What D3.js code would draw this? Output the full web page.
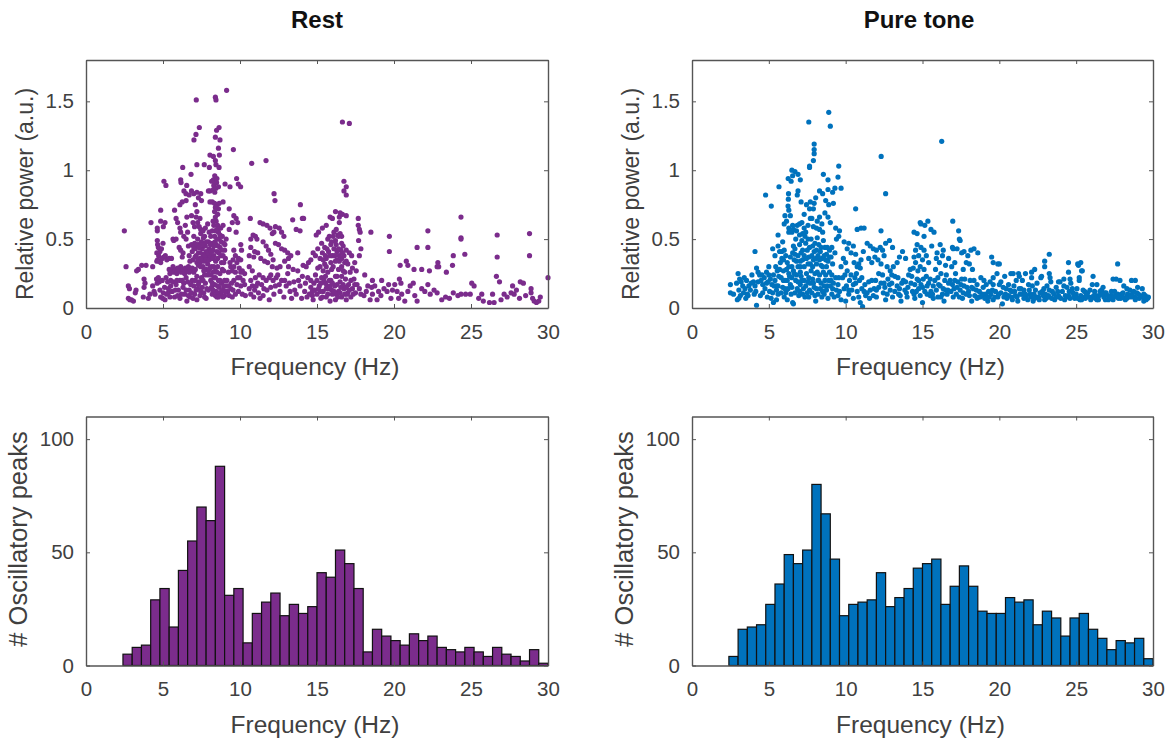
<!DOCTYPE html>
<html><head><meta charset="utf-8">
<script src="https://cdn.jsdelivr.net/npm/d3@7"></script>
<style>html,body{margin:0;background:#fff}svg{display:block}text{font-family:"Liberation Sans",Arial,sans-serif}</style>
</head><body><svg id="c" width="1171" height="740"></svg>
<script>
const xTicks=[0,5,10,15,20,25,30];
const powerTicks=[0,0.5,1,1.5];
const countTicks=[0,50,100];
const binStart=1.8, binWidth=0.6;
const restCounts=[0,5,8,9,29,34,17,42,55,70,64,88,31,34,10,23,28,32,22,27,23,26,41,39,51,45,34,6,16,13,11,9,14,11,13,8,7,6,8,6,4,8,5,4,2,7,1];
const pureCounts=[0,4,16,17,18,27,36,49,45,51,80,67,47,22,27,28,29,41,26,30,34,43,45,47,27,35,44,35,24,23,23,30,28,29,18,24,21,13,21,23,16,12,7,11,10,12,3];
const restPeaks=[
[2.49,.56],[2.6,.3],[2.75,.16],[2.82,.14],[2.75,.07],[2.95,.06],[2.85,.06],[3.08,.05],[3.25,.13],[3.2,.11],[3.29,.27],[3.4,.28],[3.62,.31],[3.9,.31],[4.33,.3],[3.77,.21],[3.83,.18],[3.77,.15],[3.72,.08],[4.05,.07],[4.15,.1],[4.33,.16],[4.42,.12],[4.48,.1],[4.58,.21],[4.62,.18],[4.7,.22],[4.8,.13],[4.85,.08],[4.98,.07],[5.13,.06],[5.24,.1],[5.35,.11],[5.02,.11],[4.76,.19],
[4.63,.56],[4.63,.58],[4.85,.63],[5.02,.59],[5.13,.62],[4.85,.71],[4.22,.62],[4.63,.49],[4.65,.46],[4.7,.44],[4.6,.4],[4.72,.38],[4.8,.41],[4.9,.43],[5,.47],[5.05,.37],[4.65,.35],[4.75,.34],[4.85,.33],[4.95,.36],[5.15,.38],[5.25,.35],[5.4,.36],[5.55,.36],[4.6,.34],[5.06,.92],[5.19,.89],
[5.4,.28],[5.45,.25],[5.55,.27],[5.65,.3],[5.7,.26],[5.8,.28],[5.9,.25],[5.95,.29],[6.05,.27],[6.15,.3],[6.2,.26],[6.3,.28],[6.4,.25],[6.45,.29],[6.55,.27],[6.65,.3],[6.7,.26],[6.8,.27],[6.9,.29],[7,.26],[7.1,.28],
[5.5,.16],[5.6,.12],[5.75,.08],[5.85,.17],[6,.13],[6.1,.07],[6.25,.2],[6.3,.15],[6.4,.1],[6.55,.05],[6.6,.19],[6.7,.13],[6.75,.08],[6.9,.2],[7,.16],[7.05,.1],[7.2,.06],[7.25,.14],[7.35,.19],[7.4,.09],[7.5,.22],[7.55,.15],[7.65,.11],[7.75,.18],[7.8,.07],[7.9,.24],[7.95,.13],
[5.65,.5],[5.7,.49],[5.85,.5],[5.75,.71],[5.85,.65],[5.95,.62],[6.1,.58],[6.15,.55],[6.05,.44],[6.15,.42],[6.25,.37],[6.3,.4],[6.35,.52],[6.45,.6],[6.5,.5],[6.55,.66],[6.6,.55],[6.28,1.02],[6.82,.97],[6.15,.93],[6.17,.91],[6.54,.89],[6.36,.85],[6.49,.83],[6.1,.75],[6.25,.77],[6.5,.78],[6.7,.82],[6.85,.85],[7,.83],[7.2,.84],[7.3,.8],[7.45,.83],[7.1,.75],[7.5,.78],
[6.65,.45],[6.7,.38],[6.75,.34],[6.85,.46],[6.9,.41],[6.95,.35],[7,.52],[7.05,.47],[7.1,.43],[7.15,.38],[7.2,.33],[7.25,.5],[7.3,.46],[7.3,.4],[7.4,.36],[7.4,.33],[7.45,.54],[7.5,.48],[7.55,.43],[7.6,.39],[7.65,.34],[7.7,.52],[7.75,.45],[7.8,.41],[7.85,.37],[7.9,.32],[7.95,.48],[8,.43],[8.05,.38],[6.95,.62],[7.05,.59],[7.15,.66],[7.25,.62],[7.35,.59],[7.45,.57],[7.6,.56],[7.75,.58],[7.9,.61],[8,.55],[7.2,.7],[6.85,.67],[7.4,.65],
[7.16,1.51],[8.4,1.53],[8.44,1.51],[9.13,1.58],[7.36,1.31],[7.14,1.26],[7.01,1.22],[8.64,1.31],[8.48,1.29],[8.4,1.24],[8.7,1.22],[8.6,1.16],[9.57,1.15],[8.66,1.11],[8.05,1.11],[8.27,1.1],[8.4,1.07],[8.44,1.04],[8.64,1.02],[7.2,1.04],[7.68,1.04],[8.01,1.02],[10.76,1.05],[11.69,1.07],
[8.36,.96],[8.27,.93],[8.5,.94],[8.16,.92],[8.3,.89],[8.48,.91],[8.05,.85],[8.27,.86],[8.44,.87],[8.36,.84],[8.6,.88],[7.95,.85],[8.05,.77],[8.2,.77],[8.35,.76],[8.5,.75],[8.65,.76],[8.9,.77],[8.35,.7],[8.4,.66],[8.45,.63],[8.3,.6],[8.55,.6],[8.2,.56],
[8.1,.52],[8.2,.47],[8.25,.42],[8.3,.38],[8.35,.52],[8.45,.46],[8.5,.41],[8.55,.36],[8.6,.55],[8.65,.5],[8.7,.44],[8.75,.38],[8.8,.33],[8.85,.52],[8.95,.47],[9,.42],[9.05,.36],[9.1,.5],[8.3,.3],[8.4,.27],[8.55,.3],[8.7,.25],[8.15,.3],[8.85,.28],
[8.1,.2],[8.15,.15],[8.2,.1],[8.3,.22],[8.35,.17],[8.45,.12],[8.5,.08],[8.6,.2],[8.65,.15],[8.75,.1],[8.8,.18],[8.9,.13],[9,.2],[9,.09],[9.1,.16],[9.2,.12],[9.3,.09],[9.4,.14],[9.03,.9],[9.35,.88],[9.78,.94],[9.89,.9],[10.04,.88],[9.3,.72],[9.6,.67],[9.75,.65],[9.85,.62],[9.5,.62],[9.3,.57],[9.75,.55],
[9.4,.3],[9.5,.27],[9.6,.3],[9.7,.26],[9.8,.33],[9.95,.29],[10.05,.35],[10.15,.27],[10.3,.25],[9.6,.2],[9.8,.17],[9.9,.12],[10,.22],[10.15,.1],[10.3,.17],[10.35,.09],[10.05,.46],[10.1,.42],[10.67,.65],[9.9,.36],
[10.7,.5],[10.85,.53],[11,.52],[11.1,.5],[10.7,.44],[10.95,.41],[11.15,.4],[10.6,.38],[10.9,.37],[11.35,.36],[10.6,.3],[10.8,.27],[11,.22],[10.7,.2],[11.15,.18],[10.6,.14],[10.95,.13],[11.2,.11],[11.4,.17],[11.5,.09],[11.7,.2],[11.3,.07],[10.9,.08],[11.75,.13],[11.9,.06],
[11.3,.62],[11.5,.61],[11.75,.6],[11.95,.58],[12.21,.83],[12.27,.78],[12.3,.59],[12.1,.54],[12.2,.55],[12.55,.58],[12.7,.55],[12.85,.52],[11.5,.48],[11.7,.45],[11.85,.42],[12,.39],[12.15,.35],[12.3,.47],[12.5,.46],[12.7,.43],[12.9,.42],[11.6,.34],[11.8,.33],[12.1,.3],[12.4,.29],[12.6,.3],[12.9,.34],[13.1,.4],[13.15,.36],[13.42,.64],[13.92,.75],[14.05,.65],[14.13,.65],[13.65,.57],[13.9,.56],[13.3,.38],[13.75,.4],
[12,.24],[12.15,.2],[12.3,.16],[12.45,.24],[12.6,.12],[12.7,.2],[12.85,.08],[13,.16],[13.1,.25],[13.25,.12],[13.35,.07],[13.5,.19],[13.65,.1],[13.75,.27],[13.9,.16],[14,.07],[14.05,.23],[14.2,.12],[13.45,.28],[13.15,.3],[14.3,.3],[14.1,.31],[14.45,.33],[14.6,.35],[14.4,.22],
[14.6,.15],[14.7,.12],[14.8,.18],[14.9,.24],[15,.1],[15.05,.29],[15.15,.16],[15.25,.07],[15.3,.22],[15.4,.12],[15.5,.32],[15.55,.18],[15.6,.08],[15.7,.26],[15.75,.14],[15.85,.05],[15.9,.2],[16,.1],[16.05,.3],[16.15,.16],[16.2,.06],[16.3,.23],[16.4,.12],[16.45,.34],[16.5,.19],[16.6,.08],[16.7,.27],[16.75,.14],[16.85,.21],[16.9,.06],[17,.11],[17.05,.17],[17.15,.26],[17.2,.08],[17.3,.14],[17.4,.21],[17.5,.11],[17.6,.17],[17.75,.14],[17.85,.1],[14.7,.09],[15.2,.12],[15.45,.2],[15.65,.16],[15.95,.13],[16.25,.1],[16.55,.15],[16.8,.1],
[14.75,.4],[14.9,.38],[15.05,.43],[15.2,.36],[15.3,.47],[15.35,.4],[15.5,.44],[15.6,.36],[15.7,.5],[15.75,.41],[15.8,.52],[15.9,.46],[16,.38],[16.05,.52],[16.2,.49],[16.3,.41],[16.35,.53],[16.5,.54],[16.6,.36],[16.7,.45],[16.75,.38],[16.8,.33],[16.9,.42],[17,.32],[17.1,.4],[17.25,.38],[17.3,.29],[17.45,.33],[17.55,.27],[16.55,.42],
[16.65,1.35],[17.1,1.34],[16.75,.92],[16.9,.88],[16.75,.85],[16.9,.82],[15.85,.66],[16,.65],[16.2,.7],[16.45,.66],[16.5,.69],[16.65,.68],[16.9,.67],[16.45,.62],[17.68,.65],[17.68,.6],[17.75,.57],[17.8,.55],[17.7,.49],[17.85,.43],[17.75,.38],[18.5,.55],[19.7,.52],[19.7,.41],[20.8,.34],[22.2,.56],[22.2,.44],[24.35,.66],[24.35,.51],[24.35,.5],[26.7,.53],[26.7,.37],[28.8,.54],[28.8,.38],[30,.22],[20.4,.31],[21.5,.44],[20.9,.31],[22.85,.33],[23.85,.38],[24.6,.39],[23.8,.31],[22.9,.3],[23.4,.26],[21.3,.28],[21.8,.28],[22.3,.27],[22.8,.3],
[18.1,.24],[18.6,.2],[18.55,.15],[18.2,.12],[18.6,.1],[18.75,.16],[18.9,.06],[19,.12],[19.15,.09],[19.35,.14],[19.55,.12],[19.8,.07],[19.9,.13],[20.2,.12],[20.3,.07],[20.35,.21],[20.45,.18],[20.5,.1],[20.7,.05],[20.9,.12],[21.05,.16],[21.25,.18],[21.35,.09],[21.5,.05],[21.8,.14],[22,.12],[22.2,.17],[22.35,.1],[22.6,.13],[22.8,.11],[23.1,.06],[23.35,.08],[23.6,.07],[23.85,.11],[24.15,.09],[24.35,.1],[24.65,.1],[24.95,.1],[25.2,.16],[25.05,.18],[25.5,.07],[25.7,.1],[25.8,.05],[26.2,.04],[26.4,.1],[26.5,.04],[26.95,.06],[27.15,.1],[27.35,.08],[27.6,.11],[27.8,.1],[28.15,.07],[28.2,.19],[28.4,.18],[28.9,.14],[28.9,.11],[29,.07],[29.1,.05],[29.25,.04],[29.5,.08],[28.55,.09],[27.7,.16],[27.95,.13],[29.4,.05],[26.65,.23],[26.85,.19],
[18.05,.09],[18.3,.16],[18.45,.06],[19.2,.2],[19.65,.17],[20.05,.17],[15.1,.55],[14.95,.53],[15.35,.58],[15.6,.6],
[4.95,.2],[5.1,.15],[5.3,.19],[5.2,.22],[5.45,.08],[5.65,.19],[5.8,.13],[5.95,.09],[6.1,.2],[6.2,.1],[6.35,.18],[6.5,.13],[6.65,.09],[6.8,.17],[6.85,.11],[6.95,.07],[7.1,.2],[7.15,.13],[7.3,.17],[7.45,.12],[7.6,.2],[7.7,.08],[7.85,.14],[5.35,.14],[5.5,.2],[5.9,.2],[6.5,.22],[7.2,.23],[7.7,.24],
[7,.44],[7.08,.37],[7.18,.46],[7.28,.35],[7.35,.44],[7.42,.4],[7.5,.36],[7.58,.46],[7.62,.51],[7.7,.38],[7.78,.35],[7.82,.48],[7.92,.4],[8,.35],[8.08,.46],[8.15,.41],[8.22,.36],[8.3,.45],[8.38,.48],[8.42,.34],[8.5,.5],[8.58,.45],[8.62,.4],[8.7,.53],[8.78,.48],[8.82,.42],[8.9,.38],[8.95,.33],[9.02,.46],[8.4,.56],[8.5,.57],[8.75,.58],[8.9,.6],[8.25,.63],[8.55,.68],[8.6,.72],[8.4,.73],[7.6,.3],[7.8,.28],[7.45,.3],[7.3,.31],[7.95,.27],[8.05,.29],[8.25,.26],[8.5,.26],[8.95,.27],
[7.65,.27],[8.1,.24],[8.2,.18],[8.4,.22],[8.55,.16],[8.25,.13],[8.4,.09],[8.55,.11],[8.7,.2],[8.8,.12],[8.95,.16],[9.05,.12],[9.15,.2],[9.25,.16],[8.6,.08],[8.9,.08],
[9.45,.18],[9.55,.13],[9.7,.1],[9.85,.22],[10.05,.16],[9.5,.08],[10.2,.2],[10.05,.26],[9.55,.35],[9.7,.38],[9.6,.42],[9.35,.33],[9.25,.26],
[10.8,.16],[10.7,.1],[11.05,.16],[11.25,.24],[11.5,.22],[11.55,.14],[11.9,.22],[12,.15],[12.2,.1],[12.35,.22],[12.55,.17],[12.9,.2],[13.2,.18],[13.55,.13],[13.8,.2],[14.25,.18],[14.35,.08],[14.5,.1],
[14.6,.2],[14.75,.06],[14.85,.13],[15,.2],[15.1,.14],[15.25,.18],[15.35,.08],[15.4,.27],[15.55,.23],[15.6,.14],[15.7,.1],[15.8,.2],[15.85,.16],[15.95,.28],[16,.18],[16.1,.12],[16.2,.23],[16.3,.17],[16.35,.08],[16.4,.28],[16.5,.11],[16.6,.23],[16.7,.17],[16.8,.26],[16.9,.15],[16.95,.1],[17.1,.13],[17.2,.2],[17.35,.1],[17.45,.17],[15.2,.3],[15.6,.3],[15.9,.33],[16.2,.34],[16.6,.3],[16.9,.34],
[15.4,.35],[15.55,.38],[15.65,.43],[15.85,.38],[15.95,.48],[16.1,.43],[16.15,.38],[16.25,.46],[16.4,.43],[16.45,.38],[16.6,.47],[16.65,.4],[16.3,.35],[16.1,.55],[16.25,.57],[16.4,.52],[16.6,.52]
];
const pureTonePeaks=[
[2.5,.17],[2.5,.11],[2.7,.1],[2.95,.06],[3.05,.07],[3.15,.09],[2.9,.18],[3,.25],[3.1,.21],[3.3,.16],[3.35,.11],[3.5,.07],[3.4,.22],[3.55,.2],[3.7,.16],[3.8,.13],[3.9,.24],[4,.19],[4.1,.16],[4.2,.29],[4.3,.26],[4.4,.24],[4.5,.2],[4.6,.17],[4.15,.12],[4.45,.09],[4.6,.11],[4.2,.02],[4.79,.82],[5.16,.74],[4.1,.41],[5,.3],[5.3,.04],[5.5,.06],
[4.7,.22],[4.85,.26],[4.95,.19],[5.05,.12],[5.2,.17],[5.3,.24],[5.4,.2],[5.5,.13],[5.6,.1],[5.7,.28],[5.8,.22],[5.9,.15],[6,.08],[5.45,.3],[5.55,.27],[5.75,.33],[5.85,.36],[5.95,.27],[6.05,.2],[6.15,.13],[6.2,.06],[6.3,.25],[6.4,.17],[6.45,.1],[6.55,.04],[6.6,.03],[5.25,.43],[5.4,.38],[5.6,.45],[5.7,.41],[5.85,.41],[5.9,.48],[6,.42],[6.1,.38],[6.2,.33],[6.3,.3],[6.4,.37],[5.6,.53],
[5.66,.88],[6.26,.94],[6.28,.83],[6.27,.79],[6.25,.74],[6.55,.96],[6.7,.99],[6.45,.92],[6.5,1],[6.9,.97],[7.05,.93],[6.9,.85],[6.85,.82],[7.1,.77],[6.3,.71],[6.05,.67],[6,.61],[6.15,.63],[6.4,.67],[6.55,.6],[6.3,.58],[6.5,.55],[6.3,.55],[6.6,.57],[6.85,.6],[7,.61],[7.15,.62],[7.3,.58],[6.75,.5],[6.8,.56],[7,.53],[7.2,.54],[7.4,.55],[7.55,.6],[7.7,.65],[7.65,.72],[7.9,.72],[7.7,.77],[7.95,.76],[8.05,.8],[7.8,.65],[7.3,.68],[7.45,.75],[7.6,1.35],[7.95,1.19],[7.95,1.12],[7.95,1.15],[8.9,1.42],[9,1.32],[7.65,1.03],[7.9,1.07],[7.65,1.02],[8.55,.97],[8.85,.93],[9.55,1.03],[9.5,.95],[8.85,.86],[9.15,.84],[9.7,.87],[9.3,.87],[8.9,.75],[9.2,.76],[8.3,.85],[8.5,.83],[8.7,.78],
[8.65,.69],[8.85,.66],[9,.62],[8.3,.66],[8.15,.63],[8.45,.61],[7.9,.59],[8.1,.58],[8.3,.57],[8.5,.55],[9.35,.58],[9.6,.56],[9.4,.5],[9.55,.52],[9.9,.48],
[6.6,.45],[6.7,.39],[6.8,.34],[6.9,.3],[7,.46],[7.1,.4],[7.2,.35],[7.3,.3],[7.4,.47],[7.5,.42],[7.6,.37],[7.7,.32],[7.75,.5],[7.85,.45],[7.95,.41],[8.05,.36],[8.15,.51],[8.25,.46],[8.35,.41],[8.45,.36],[8.55,.49],[8.65,.44],[8.75,.39],[8.85,.34],[8.95,.42],[9.05,.37],[9.15,.32],[9.3,.4],[7.55,.5],[7.35,.52],[7.15,.49],[8.1,.32],[8.4,.31],[8.75,.3],
[6.65,.25],[6.75,.2],[6.85,.14],[6.95,.09],[7.05,.26],[7.15,.2],[7.25,.14],[7.35,.08],[7.45,.25],[7.55,.19],[7.65,.13],[7.75,.27],[7.85,.21],[7.95,.15],[8,.09],[8.05,.05],[8.15,.26],[8.25,.2],[8.35,.14],[8.45,.08],[8.55,.26],[8.65,.2],[8.75,.13],[8.85,.07],[8.95,.26],[9.05,.2],[9.15,.14],[9.25,.08],[9.35,.22],[9.5,.17],[9.6,.12],[9.7,.06],[9.8,.22],[9.9,.14],[10,.05],[10.1,.27],[10.25,.2],[10.4,.13],[10.5,.07],[10.65,.18],[10.75,.12],[10.85,.08],[10.95,.04],[11.1,.01],
[9.7,.3],[9.85,.36],[10,.33],[10.1,.43],[10.2,.47],[10.35,.4],[10.5,.45],[10.55,.33],[10.65,.39],[10.75,.3],[10.85,.32],[11,.35],[10.95,.29],[11.15,.41],[10.75,.57],[11,.58],[11.2,.58],[10.65,.72],[12.3,.56],[12.31,1.1],[12.6,.83],[11.4,.47],[11.6,.45],[11.8,.43],[12,.42],[12.25,.44],[12.4,.42],[12.6,.47],[12.85,.49],[13.05,.44],[11.5,.36],[11.7,.33],[11.9,.37],[12.1,.35],[12.3,.32],[12.5,.38],[12.7,.3],[12.9,.27],[13.1,.3],[13.35,.33],[13.5,.37],[13.7,.41],[13.9,.36],
[11.25,.17],[11.4,.11],[11.55,.07],[11.7,.2],[11.85,.14],[12,.08],[12.15,.25],[12.3,.18],[12.45,.11],[12.6,.06],[12.75,.21],[12.9,.13],[13.05,.08],[13.2,.23],[13.35,.16],[13.45,.1],[13.6,.05],[13.75,.2],[13.85,.13],[14,.08],[14.1,.24],[14.25,.18],[14.35,.12],[14.5,.07],[14.65,.21],[14.75,.14],[14.85,.09],[15,.04],[14.4,.29],[14.55,.33],[14.7,.27],[14.85,.3],
[14.45,.37],[14.55,.42],[14.65,.46],[14.75,.38],[14.9,.44],[15,.35],[15.1,.42],[15.25,.38],[15.4,.33],[14.45,.55],[14.65,.54],[14.85,.62],[14.9,.61],[15.15,.6],[15.35,.63],[15.1,.52],[15.55,.57],[15.75,.55],[16.25,1.21],[16.97,.63],[17.35,.56],[17.4,.5],[17.45,.49],[16.95,.44],[17,.43],[17.25,.43],[16.15,.46],[16.35,.42],[15.95,.4],[15.6,.45],[15.9,.36],[16.1,.33],[16.3,.38],[16.5,.31],[16.7,.36],[16.9,.3],[17.1,.33],[17.55,.4],[17.7,.41],[17.95,.38],[18.15,.42],[18.35,.43],[18.6,.4],[19.5,.37],[19.6,.33],[19.9,.32],[20,.32],[18.25,.28],[18.05,.32],[17.85,.33],[17.65,.28],
[15.1,.28],[15.25,.23],[15.4,.18],[15.55,.12],[15.7,.07],[15.85,.28],[16,.22],[16.15,.16],[16.3,.1],[16.4,.05],[16.55,.24],[16.7,.18],[16.85,.12],[17,.08],[17.15,.25],[17.3,.19],[17.45,.13],[17.6,.07],[17.75,.21],[17.9,.15],[18.05,.09],[18.2,.05],[18.35,.2],[18.5,.13],[18.65,.08],[18.8,.22],[18.95,.15],[19.1,.1],[19.25,.05],[19.4,.19],[19.55,.13],[19.7,.08],[19.85,.25],[20,.17],[20.1,.11],[20.2,.03],[20.35,.23],[20.45,.14],[20.6,.09],[20.75,.25],[20.9,.25],[20.95,.16],[21.05,.09],[21.2,.05],[21.25,.25],[21.4,.14],[15.3,.1],[15.7,.16],[16.2,.08],[16.6,.1],[17.2,.1],[17.5,.17],[18,.12],[18.4,.09],[18.9,.1],[19.3,.12],[19.6,.17],[20.3,.08],[20.7,.13],[21,.12],[21.35,.1],
[21.5,.2],[21.6,.13],[21.75,.08],[21.9,.17],[22,.1],[22.1,.22],[22.2,.05],[22.35,.13],[22.45,.18],[22.55,.08],[22.7,.22],[22.8,.12],[22.95,.06],[23.1,.16],[23.2,.09],[23.35,.19],[23.45,.12],[23.6,.06],[23.7,.15],[23.85,.09],[23.95,.19],[24.1,.12],[24.25,.06],[24.4,.15],[24.5,.09],[24.65,.18],[24.8,.11],[24.9,.07],[25.05,.14],[25.2,.2],[25.3,.09],[25.45,.13],[25.6,.07],[25.75,.11],[25.9,.13],[26.05,.08],[26.2,.12],[26.35,.06],[26.5,.09],[26.65,.13],[26.8,.08],[26.95,.11],[27.1,.06],[27.25,.09],[27.4,.06],[27.55,.09],[27.7,.1],[27.9,.07],[28.05,.11],[28.2,.06],[28.35,.1],[28.5,.13],[28.65,.1],[28.8,.08],[28.95,.11],[29.1,.07],[29.25,.08],[29.4,.05],[29.5,.09],[29.65,.07],
[22.95,.34],[23.25,.39],[22.95,.3],[24.5,.33],[25.1,.32],[25.3,.33],[25.15,.31],[25.35,.27],[27.7,.32],[23.25,.25],[24.5,.26],[25.4,.27],[26.1,.23],[27.4,.21],[27.6,.21],[27.85,.2],[28.6,.2],[28.85,.2],[21.7,.25],[21.3,.23],[22.1,.26],[22.3,.28],[22.75,.23],[23.3,.22],[23.85,.19],[24.2,.21],[24.6,.21],[25.2,.22],[26.05,.17],[26.35,.17],[26.75,.15],[28.1,.16],[28.3,.14],[29,.15],[29.3,.14],
[3.05,.13],[3.6,.1],[4.9,.08],[5.15,.07],[5.5,.16],[6.1,.11],[6.5,.22],[7.05,.17],[7.6,.08],[8.2,.1],[8.6,.1],[9.1,.1],[9.5,.09],[10.2,.1],[10.6,.22],[11.05,.14],[11.3,.09],[12,.13],[12.55,.15],[13,.18],[13.5,.14],[13.95,.11],[14.45,.1],[15,.15],[15.5,.09],[16,.08],[16.5,.13],[17.05,.14],[17.65,.11],[18.2,.15],[18.7,.12],[19.15,.17],[19.75,.12],[20.25,.15],[20.8,.08],[21.5,.1],[22.25,.1],[23,.1],[23.8,.12],[24.55,.12],[25.4,.08],[26.3,.09],[27.3,.12],[28.4,.08],[29.4,.1],
[3.2,.19],[3.45,.14],[3.65,.09],[3.85,.18],[4.05,.1],[4.3,.19],[4.55,.24],[4.75,.14],[4.85,.18],[5,.24],[5.1,.21],[5.25,.11],[5.35,.16],[5.6,.16],[5.65,.23],[5.8,.11],[5.95,.2],[6.05,.14],[6.2,.2],[6.25,.14],[6.35,.23],[6.5,.15],[6.6,.27],[6.7,.11],[6.8,.24],[6.9,.19],[7,.12],[7.1,.23],[7.2,.1],[7.3,.2],[7.4,.16],[7.5,.11],[7.6,.22],[7.7,.18],[7.8,.11],[7.9,.18],[8,.25],[8.1,.14],[8.2,.2],[8.3,.24],[8.4,.18],[8.5,.12],[8.6,.16],[8.7,.24],[8.8,.16],[8.9,.2],[9,.16],[9.1,.24],[9.2,.18],[9.4,.13],[9.55,.22],
[6.55,.4],[6.65,.35],[6.7,.43],[6.9,.38],[7.05,.34],[7.2,.42],[7.3,.38],[7.45,.36],[7.55,.32],[7.65,.44],[7.8,.38],[7.9,.35],[8,.47],[8.1,.42],[8.2,.38],[8.3,.35],[8.4,.44],[8.6,.38],[8.7,.35],[8.8,.44],[8.95,.37],[9.1,.44],[5.95,.35],[6.15,.28],[6.5,.3],[7.85,.3],[8.5,.3],[7.05,.3],
[9.95,.24],[10.05,.16],[10.2,.13],[10.35,.24],[10.5,.17],[10.7,.25],[10.9,.2],[11.05,.22],[11.2,.12],[11.5,.19],[11.6,.13],[11.8,.09],[11.95,.2],[12.15,.15],[12.4,.24],[12.5,.18],[12.7,.1],[12.85,.17],[13,.24],[13.2,.12],[13.4,.22],[13.55,.09],[13.65,.18],[13.9,.19],[14.05,.15],[14.2,.28],[14.3,.23],[14.5,.17],[14.6,.12],[14.75,.2],[14.9,.17],[15.05,.21],[15.15,.12],[15.3,.16],[15.5,.21],[15.65,.1],[15.8,.2],[15.9,.13],[16.05,.17],[16.2,.25],[16.35,.14],[16.45,.2],[16.65,.13],[16.8,.2],[16.95,.17],[17.1,.2],[17.25,.15],[17.4,.08],[17.55,.21],[17.7,.16],[17.85,.1],[18.1,.2],[18.3,.14],[18.55,.17],[18.75,.08],[19,.2],[19.2,.08],[19.45,.1],[19.6,.22],[19.9,.08],[20.1,.19],[20.4,.1],[20.6,.17],[20.8,.12],[21.1,.2],[21.3,.14],[21.7,.1],[21.95,.13],[22.15,.16],[22.4,.08],[22.65,.11],[22.9,.14],[23.05,.07],[23.25,.13],[23.55,.1],[23.9,.08],[24.2,.16],[24.35,.08],[24.75,.14],[25,.1],[25.25,.06],[25.55,.12],[25.85,.08],[26.15,.09],[26.55,.12],[26.85,.11],[27.05,.09],[27.5,.12],[27.95,.1],[28.25,.08],[28.75,.12],[29.05,.1],[29.35,.08],
[18.55,.07],[18.85,.09],[19.05,.07],[19.35,.08],[19.6,.06],[19.95,.1],[20.5,.07],[20.85,.06],[21.15,.08],[21.6,.07],[21.85,.06],[22.05,.08],[22.3,.07],[22.6,.06],[22.85,.09],[23.15,.08],[23.4,.07],[23.7,.08],[24,.07],[24.3,.09],[24.6,.07],[24.85,.09],[25.1,.07],[25.35,.06],[25.65,.09],[25.95,.06],[26.25,.07],[26.45,.06],[26.7,.1],[26.9,.06],[27.2,.07],[27.45,.08],[27.75,.07],[28,.08],[28.3,.07],[28.6,.08],[28.85,.06],[29.15,.09],[29.55,.06],[29.7,.08]
];
const colors={rest:"#7B2C8C",pure:"#0072BD"};
const svg=d3.select("#c");
const xRangeL=[86,548], xRangeR=[692,1153];
const ink="#404040", axisInk="#555";
function frame(g,x,y,yt,yfmt,ylabel,ylx,yly,ylsize){
  const [l,r]=x.range(), [b,t]=y.range();
  const mk=(ax)=>{ax.selectAll("path").attr("stroke",axisInk).attr("stroke-width",1.4).attr("fill","none");ax.selectAll("line").attr("stroke",axisInk).attr("stroke-width",1);};
  const bottom=g.append("g").attr("transform",`translate(0,${b})`).call(d3.axisBottom(x).tickValues(xTicks).tickSizeInner(-4).tickSizeOuter(0).tickPadding(16).tickFormat(d3.format("d")));
  const left=g.append("g").attr("transform",`translate(${l},0)`).call(d3.axisLeft(y).tickValues(yt).tickSizeInner(-4).tickSizeOuter(0).tickPadding(12).tickFormat(yfmt));
  const top=g.append("g").attr("transform",`translate(0,${t})`).call(d3.axisTop(x).tickValues(xTicks).tickSizeInner(-4).tickSizeOuter(0).tickFormat(""));
  const right=g.append("g").attr("transform",`translate(${r},0)`).call(d3.axisRight(y).tickValues(yt).tickSizeInner(-4).tickSizeOuter(0).tickFormat(""));
  [bottom,left,top,right].forEach(mk);
  g.selectAll("g.tick text").attr("font-size",20.5).attr("fill",ink).attr("font-family",'"Liberation Sans",Arial,sans-serif');
  g.append("text").attr("x",(l+r)/2-2).attr("y",b+67).attr("text-anchor","middle").attr("font-size",24.5).attr("fill",ink).text("Frequency (Hz)");
  g.append("text").attr("transform",`translate(${l-ylx},${yly}) rotate(-90)`).attr("text-anchor","middle").attr("font-size",ylsize).attr("fill",ink).text(ylabel);
}
function scatter(xr,peaks,col){
  const g=svg.append("g");
  const x=d3.scaleLinear().domain([0,30]).range(xr), y=d3.scaleLinear().domain([0,1.8]).range([308,60]);
  g.append("g").selectAll("circle").data(peaks).join("circle").attr("cx",d=>x(d[0])).attr("cy",d=>y(d[1])).attr("r",2.6).attr("fill",col);
  frame(g,x,y,powerTicks,d=>d===0?"0":String(d),"Relative power (a.u.)",53,194,23);
}
function hist(xr,counts,col){
  const g=svg.append("g");
  const x=d3.scaleLinear().domain([0,30]).range(xr), y=d3.scaleLinear().domain([0,110]).range([665.5,416.5]);
  g.append("g").selectAll("rect").data(counts).join("rect")
   .attr("x",(d,i)=>x(binStart+i*binWidth)).attr("width",x(binWidth)-x(0))
   .attr("y",d=>y(d)).attr("height",d=>y(0)-y(d))
   .attr("fill",col).attr("stroke","#111").attr("stroke-width",1.2);
  frame(g,x,y,countTicks,d3.format("d"),"# Oscillatory peaks",59,539,25.5);
}
scatter(xRangeL,restPeaks,colors.rest);
scatter(xRangeR,pureTonePeaks,colors.pure);
hist(xRangeL,restCounts,colors.rest);
hist(xRangeR,pureCounts,colors.pure);
svg.append("text").attr("x",317).attr("y",28).attr("text-anchor","middle").attr("font-size",24).attr("font-weight","bold").attr("fill","#111").text("Rest");
svg.append("text").attr("x",919).attr("y",28).attr("text-anchor","middle").attr("font-size",24).attr("font-weight","bold").attr("fill","#111").text("Pure tone");
</script></body></html>
